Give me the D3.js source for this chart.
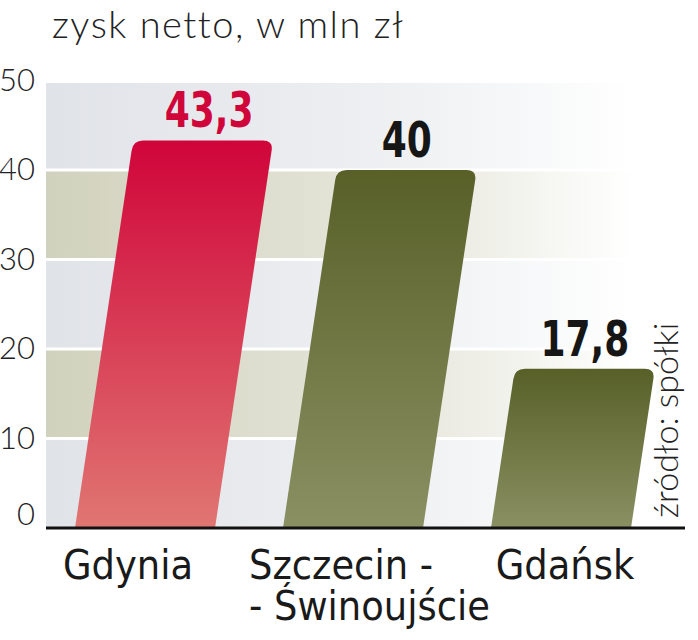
<!DOCTYPE html>
<html><head><meta charset="utf-8">
<script src="https://cdn.jsdelivr.net/npm/d3@7"></script>
<style>body{margin:0;background:#fff}svg{display:block}</style>
</head><body>
<svg id="c" width="698" height="640"></svg>
<script>
const categories = ["Gdynia", "Szczecin - Świnoujście", "Gdańsk"];
const values = [43.3, 40, 17.8];
const valueLabels = ["43,3", "40", "17,8"];
const yTicks = [0, 10, 20, 30, 40, 50];
const title = "zysk netto, w mln zł";
const source = "źródło: spółki";

const svg = d3.select("#c");
const X0 = 46, X1 = 685;
const y = d3.scaleLinear().domain([0, 50]).range([528, 80.5]);
const x = d3.scalePoint().domain(categories).range([145, 561]);
const barW = 140, slant = 0.15, r = 10;

const defs = svg.append("defs");
function hGrad(id, c) {
  const g = defs.append("linearGradient").attr("id", id).attr("x1", 0).attr("x2", 1).attr("y1", 0).attr("y2", 0);
  g.append("stop").attr("offset", "0%").attr("stop-color", c);
  g.append("stop").attr("offset", "55%").attr("stop-color", d3.interpolateRgb(c, "#fff")(0.45));
  g.append("stop").attr("offset", "92%").attr("stop-color", "#fff");
}
hGrad("bgGray", "#e0e3e8");
hGrad("bgBeige", "#d1d2bd");
function vGrad(id, top, bot) {
  const g = defs.append("linearGradient").attr("id", id).attr("x1", 0).attr("x2", 0).attr("y1", 0).attr("y2", 1);
  g.append("stop").attr("offset", "0%").attr("stop-color", top);
  g.append("stop").attr("offset", "100%").attr("stop-color", bot);
}
vGrad("gRed", "#d0053a", "#e07672");
vGrad("gGreen", "#586028", "#8a9062");

// background bands
const bands = d3.pairs(yTicks);
svg.append("g").selectAll("rect").data(bands).join("rect")
  .attr("x", X0).attr("width", X1 - X0)
  .attr("y", d => d[1] === 50 ? 83 : y(d[1]))
  .attr("height", d => y(d[0]) - (d[1] === 50 ? 83 : y(d[1])))
  .attr("fill", (d, i) => (i === 1 || i === 3) ? "url(#bgBeige)" : "url(#bgGray)");

// gridlines
svg.append("g").selectAll("line").data(yTicks.filter(t => t > 0 && t < 50)).join("line")
  .attr("x1", X0).attr("x2", X1).attr("y1", d => y(d)).attr("y2", d => y(d))
  .attr("stroke", "#fff").attr("stroke-width", 3);

// bars
function barPath(cx, v) {
  const yb = y(0), yt = y(v), s = slant * (yb - yt);
  const bl = cx - barW / 2, br = cx + barW / 2;
  const tl = bl + s, tr = br + s;
  const dx = r * slant;
  return `M${bl},${yb} L${tl - dx},${yt + r} Q${tl},${yt} ${tl + r},${yt} L${tr - r},${yt} Q${tr},${yt} ${tr - dx},${yt + r} L${br},${yb} Z`;
}
svg.append("g").selectAll("path").data(categories).join("path")
  .attr("d", (c, i) => barPath(x(c), values[i]))
  .attr("fill", (c, i) => i === 0 ? "url(#gRed)" : "url(#gGreen)");

// value labels (condensed look via horizontal squeeze)
const vl = svg.append("g").selectAll("text").data(categories).join("text")
  .attr("x", (c, i) => x(c) + slant * (y(0) - y(values[i])) + (i === 0 ? 6 : 0))
  .attr("y", (c, i) => y(values[i]) - 13)
  .attr("text-anchor", "middle")
  .attr("font-family", "'DejaVu Sans Condensed','DejaVu Sans',sans-serif")
  .attr("font-weight", "bold").attr("font-size", 50)
  .attr("fill", (c, i) => i === 0 ? "#d0063a" : "#161616")
  .text((c, i) => valueLabels[i]);
vl.each(function() {
  const w = this.getComputedTextLength();
  d3.select(this).attr("textLength", w * 0.8).attr("lengthAdjust", "spacingAndGlyphs");
});

// baseline
svg.append("line").attr("x1", X0).attr("x2", X1).attr("y1", y(0)).attr("y2", y(0))
  .attr("stroke", "#111").attr("stroke-width", 3);

// y labels
svg.append("g").selectAll("text").data(yTicks).join("text")
  .attr("x", 35).attr("y", d => d === 0 ? y(0) - 3 : y(d) + 10)
  .attr("text-anchor", "end")
  .attr("font-family", "Lato, 'Open Sans', sans-serif").attr("font-weight", 300)
  .attr("font-size", 31).attr("fill", "#222")
  .text(d => d);

// title
svg.append("text").attr("x", 52).attr("y", 38)
  .attr("font-family", "Lato, 'Open Sans', sans-serif").attr("font-weight", 300)
  .attr("font-size", 38).attr("letter-spacing", 1.5).attr("fill", "#222").text(title);

// category labels
const catFont = "'Liberation Sans Narrow','DejaVu Sans Condensed',sans-serif";
const cl = svg.append("g").attr("font-family", catFont).attr("font-size", 41).attr("fill", "#1a1a1a");
categories.forEach((c, i) => {
  const parts = c.split(" - ");
  if (parts.length > 1) {
    cl.append("text").attr("x", x(c) - 104).attr("y", 579).text(parts[0] + " -");
    cl.append("text").attr("x", x(c) - 104).attr("y", 620).text("- " + parts[1]);
  } else {
    cl.append("text").attr("x", x(c) + (i === 0 ? -17 : 4)).attr("y", 579)
      .attr("text-anchor", "middle").text(c);
  }
});

// source
svg.append("text").attr("transform", "translate(678,518) rotate(-90)")
  .attr("font-family", "Lato, 'Open Sans', sans-serif").attr("font-weight", 300)
  .attr("font-size", 34).attr("fill", "#222").text(source);
</script>
</body></html>
